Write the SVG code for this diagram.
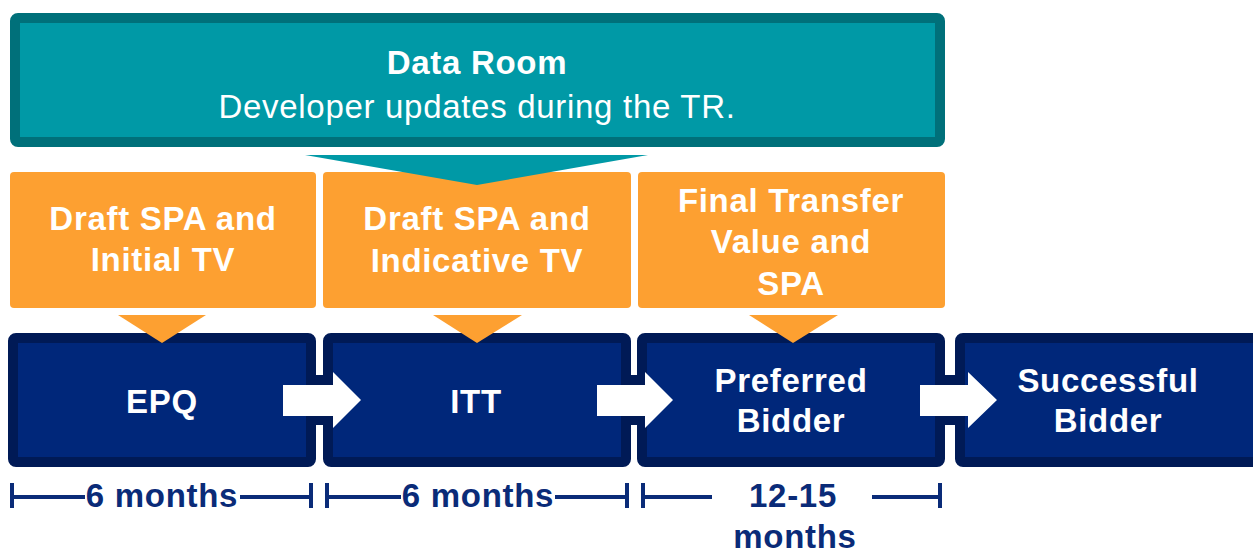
<svg xmlns="http://www.w3.org/2000/svg" width="1253" height="554" viewBox="0 0 1253 554">
  <style>
    text { font-family: "Liberation Sans", Arial, sans-serif; text-anchor: middle; letter-spacing: 0.7px; }
    .lbl { font-size: 33px; font-weight: bold; fill: #ffffff; }
    .sub { font-size: 33px; font-weight: normal; fill: #ffffff; }
    .dim { font-size: 33px; font-weight: bold; fill: #0a2b78; }
    .teal { fill: #0099a6; stroke: #00707a; stroke-width: 10; }
    .orange { fill: #fda031; }
    .navy { fill: #00277a; stroke: #001a56; stroke-width: 10; }
    .arrow { fill: #ffffff; }
    .gapfill { fill: #001a56; }
    .dline { stroke: #0a2b78; stroke-width: 4; fill: none; }
  </style>

  <!-- Data room banner -->
  <g id="data-room">
    <rect class="teal" x="15" y="18" width="925" height="124" rx="3"/>
    <text class="lbl" x="477" y="74">Data Room</text>
    <text class="sub" x="477" y="118">Developer updates during the TR.</text>
  </g>

  <!-- Document stages -->
  <g id="doc-initial">
    <rect class="orange" x="10" y="172" width="306" height="136" rx="4"/>
    <text class="lbl" x="163" y="230">Draft SPA and</text>
    <text class="lbl" x="163" y="271">Initial TV</text>
  </g>
  <g id="doc-indicative">
    <rect class="orange" x="323" y="172" width="308" height="136" rx="4"/>
    <text class="lbl" x="477" y="230">Draft SPA and</text>
    <text class="lbl" x="477" y="272">Indicative TV</text>
  </g>
  <g id="doc-final">
    <rect class="orange" x="638" y="172" width="307" height="136" rx="4"/>
    <text class="lbl" x="791" y="212">Final Transfer</text>
    <text class="lbl" x="791" y="253">Value and</text>
    <text class="lbl" x="791" y="295">SPA</text>
  </g>

  <!-- Process stages -->
  <g id="stage-epq">
    <rect class="navy" x="13" y="338" width="298" height="124" rx="3"/>
    <text class="lbl" x="162" y="413">EPQ</text>
  </g>
  <g id="stage-itt">
    <rect class="navy" x="328" y="338" width="298" height="124" rx="3"/>
    <text class="lbl" x="476" y="413">ITT</text>
  </g>
  <g id="stage-preferred">
    <rect class="navy" x="642" y="338" width="298" height="124" rx="3"/>
    <text class="lbl" x="791" y="392">Preferred</text>
    <text class="lbl" x="791" y="432">Bidder</text>
  </g>
  <g id="stage-successful">
    <rect class="navy" x="960" y="338" width="310" height="124" rx="3"/>
    <text class="lbl" x="1108" y="392">Successful</text>
    <text class="lbl" x="1108" y="432">Bidder</text>
  </g>

  <!-- Connectors: pointers and flow arrows -->
  <g id="connectors">
    <polygon fill="#0099a6" points="305,155 648,155 477,185"/>
    <polygon class="orange" points="118,315 206,315 162,343"/>
    <polygon class="orange" points="433,315 522,315 477,343"/>
    <polygon class="orange" points="749,315 838,315 793,343"/>

    <rect class="gapfill" x="314" y="375" width="12" height="50"/>
    <rect class="gapfill" x="629" y="375" width="12" height="50"/>
    <rect class="gapfill" x="943" y="375" width="14" height="50"/>

    <polygon class="arrow" points="283,385 333,385 333,372 361,400 333,428 333,416 283,416"/>
    <polygon class="arrow" points="597,385 645,385 645,372 673,400 645,428 645,416 597,416"/>
    <polygon class="arrow" points="920,385 968,385 968,372 997,400 968,428 968,416 920,416"/>
  </g>

  <!-- Durations -->
  <g id="durations">
    <path class="dline" d="M12,483 V508 M12,497 H85 M240,497 H311 M311,483 V508"/>
    <text class="dim" x="162" y="507">6 months</text>
    <path class="dline" d="M327,483 V508 M327,497 H401 M555,497 H627 M627,483 V508"/>
    <text class="dim" x="478" y="507">6 months</text>
    <path class="dline" d="M643,483 V508 M643,497 H712 M872,497 H940 M940,483 V508"/>
    <text class="dim" x="793" y="507">12-15</text>
    <text class="dim" x="795" y="548">months</text>
  </g>
</svg>
